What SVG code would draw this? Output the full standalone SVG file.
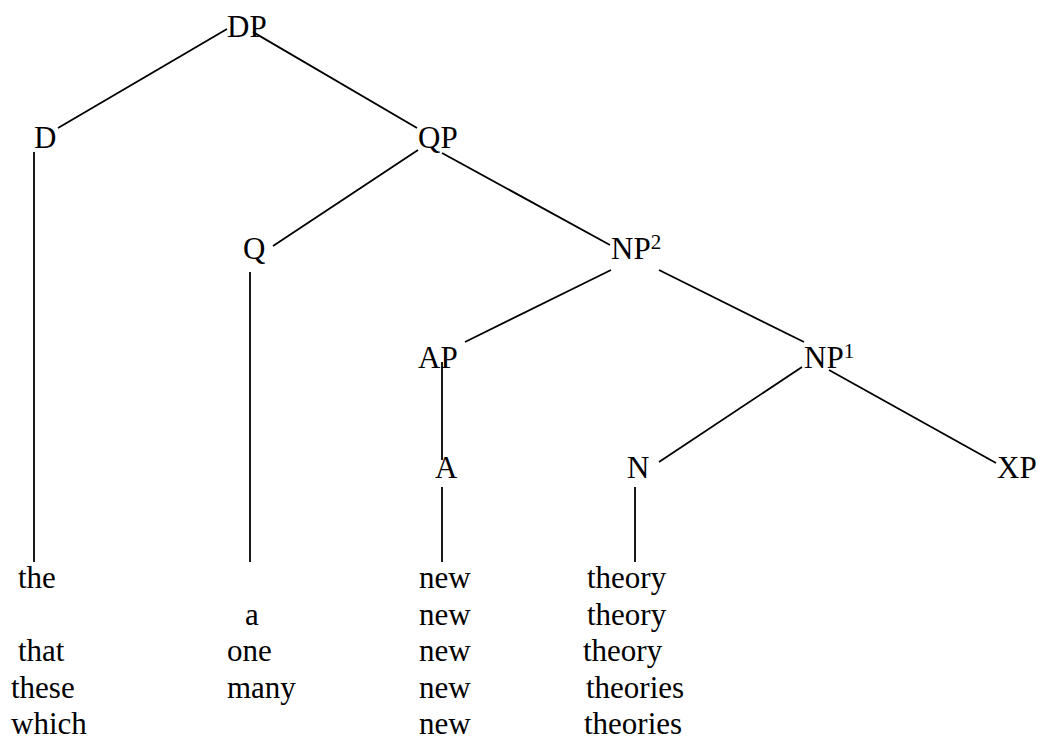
<svg xmlns="http://www.w3.org/2000/svg" width="1037" height="740" viewBox="0 0 1037 740">
  <style>
    text { font-family: "Liberation Serif", "Times New Roman", serif; font-size: 31px; fill: #000; }
    .sup { font-size: 21px; }
    .edge { stroke: #000; stroke-width: 1.8; fill: none; }
  </style>
  <rect width="1037" height="740" fill="#fff"/>

  <!-- tree branches -->
  <g id="connectors">
    <line class="edge" x1="227" y1="29" x2="58" y2="128"/>
    <line class="edge" x1="253" y1="32" x2="417" y2="128"/>
    <line class="edge" x1="34" y1="152" x2="34" y2="562"/>
    <line class="edge" x1="418" y1="150" x2="273" y2="246"/>
    <line class="edge" x1="442" y1="153" x2="610" y2="245"/>
    <line class="edge" x1="250" y1="272" x2="250" y2="562"/>
    <line class="edge" x1="611" y1="270" x2="465" y2="342"/>
    <line class="edge" x1="659" y1="270" x2="804" y2="342"/>
    <line class="edge" x1="442" y1="362" x2="442" y2="460"/>
    <line class="edge" x1="802" y1="367" x2="659" y2="462"/>
    <line class="edge" x1="829" y1="370" x2="996" y2="463"/>
    <line class="edge" x1="442" y1="487" x2="442" y2="562"/>
    <line class="edge" x1="635" y1="487" x2="635" y2="562"/>
  </g>

  <!-- category labels -->
  <g id="node-DP"><text x="227" y="37">DP</text></g>
  <g id="node-D"><text x="34" y="148">D</text></g>
  <g id="node-QP"><text x="418" y="148">QP</text></g>
  <g id="node-Q"><text x="243" y="259">Q</text></g>
  <g id="node-NP2"><text x="611" y="259">NP<tspan class="sup" dy="-10">2</tspan></text></g>
  <g id="node-AP"><text x="418" y="368">AP</text></g>
  <g id="node-NP1"><text x="804" y="368">NP<tspan class="sup" dy="-10">1</tspan></text></g>
  <g id="node-A"><text x="435" y="478">A</text></g>
  <g id="node-N"><text x="627" y="478">N</text></g>
  <g id="node-XP"><text x="997" y="478">XP</text></g>

  <!-- word rows -->
  <g id="words-D">
    <text x="18" y="588">the</text>
    <text x="18" y="661">that</text>
    <text x="11" y="698">these</text>
    <text x="11" y="734">which</text>
  </g>
  <g id="words-Q">
    <text x="245" y="625">a</text>
    <text x="227" y="661">one</text>
    <text x="227" y="698">many</text>
  </g>
  <g id="words-A">
    <text x="419" y="588">new</text>
    <text x="419" y="625">new</text>
    <text x="419" y="661">new</text>
    <text x="419" y="698">new</text>
    <text x="419" y="734">new</text>
  </g>
  <g id="words-N">
    <text x="587" y="588">theory</text>
    <text x="587" y="625">theory</text>
    <text x="583" y="661">theory</text>
    <text x="586" y="698">theories</text>
    <text x="584" y="734">theories</text>
  </g>
</svg>
